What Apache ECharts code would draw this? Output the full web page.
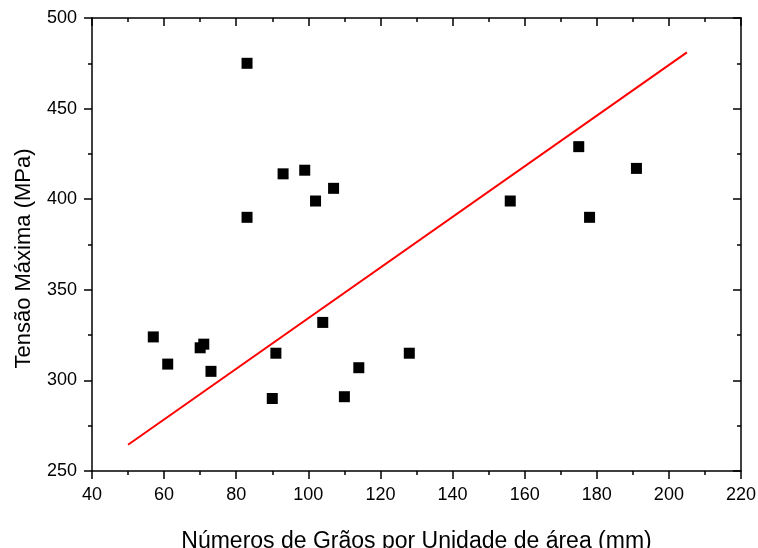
<!DOCTYPE html>
<html>
<head>
<meta charset="utf-8">
<script src="https://cdn.jsdelivr.net/npm/echarts@6/dist/echarts.min.js"></script>
<style>
  html, body { margin: 0; padding: 0; background: #fff; }
  #chart { width: 758px; height: 548px; }
</style>
</head>
<body>
<div id="chart"></div>
<script>
// grains per unit area vs max stress
var grainCount = [83, 83, 93, 99, 102, 107, 57, 61, 70, 71, 73, 90, 91, 104, 110, 114, 128, 156, 175, 178, 191];
var maxStress = [475, 390, 414, 416, 399, 406, 324, 309, 318, 320, 305, 290, 315, 332, 291, 307, 315, 399, 429, 390, 417];

// linear fit, end points
var fitX = [50, 205];
var fitY = [264.5, 481];

var points = grainCount.map(function (x, i) {
    return [x, maxStress[i]];
});
var fitLine = fitX.map(function (x, i) {
    return [x, fitY[i]];
});

var font = '"Liberation Sans", Arial, sans-serif';
var black = { color: '#000', width: 1.5 };

function makeAxis(extra) {
    return Object.assign({
        type: 'value',
        axisLine: { show: true, onZero: false, lineStyle: black },
        splitLine: { show: false },
        axisTick: { show: true, length: 8, lineStyle: black },
        minorTick: { show: true, splitNumber: 2, length: 4, lineStyle: black },
        minorSplitLine: { show: false }
    }, extra);
}

var chart = echarts.init(document.getElementById('chart'));

var option = {
    animation: false,
    grid: { left: 92, top: 18, right: 17, bottom: 77, outerBoundsMode: 'none', containLabel: false },
    xAxis: [
        makeAxis({
            min: 40, max: 220, interval: 20, position: 'bottom',
            axisLabel: { color: '#000', fontSize: 18, fontFamily: font, margin: 15 },
            name: 'Números de Grãos por Unidade de área (mm)',
            nameLocation: 'middle', nameGap: 59,
            nameTextStyle: { color: '#000', fontSize: 23, fontFamily: font }
        }),
        makeAxis({
            min: 40, max: 220, interval: 20, position: 'top',
            axisTick: { show: true, inside: true, length: 8, lineStyle: black },
            minorTick: { show: true, inside: true, splitNumber: 2, length: 4, lineStyle: black },
            axisLabel: { show: false }
        })
    ],
    yAxis: [
        makeAxis({
            min: 250, max: 500, interval: 50, position: 'left',
            axisLabel: { color: '#000', fontSize: 18, fontFamily: font, margin: 15 },
            name: 'Tensão Máxima (MPa)',
            nameLocation: 'middle', nameGap: 57,
            nameTextStyle: { color: '#000', fontSize: 22, fontFamily: font, padding: [0, 28, 0, 0] }
        }),
        makeAxis({
            min: 250, max: 500, interval: 50, position: 'right',
            axisTick: { show: true, inside: true, length: 8, lineStyle: black },
            minorTick: { show: true, inside: true, splitNumber: 2, length: 4, lineStyle: black },
            axisLabel: { show: false }
        })
    ],
    series: [
        {
            type: 'scatter',
            data: points,
            symbol: 'rect',
            symbolSize: 11,
            itemStyle: { color: '#000', opacity: 1 }
        },
        {
            type: 'line',
            data: fitLine,
            showSymbol: false,
            symbol: 'none',
            lineStyle: { color: '#ff0000', width: 2 }
        }
    ]
};

chart.setOption(option);
</script>
</body>
</html>
